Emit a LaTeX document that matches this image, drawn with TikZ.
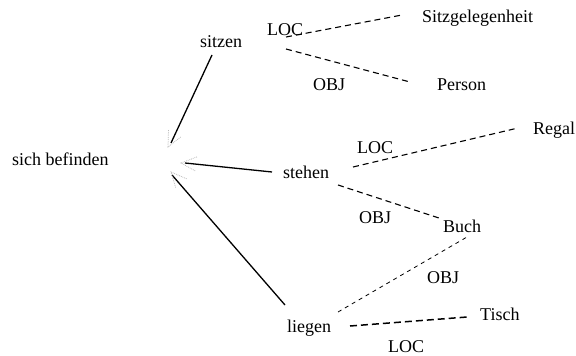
\documentclass[tikz,border=0pt]{standalone}
\usepackage{fontspec}
\setmainfont{Liberation Serif}
\usetikzlibrary{calc}
\begin{document}
\begin{tikzpicture}[x=1pt,y=-1pt,
  lbl/.style={anchor=base west,inner sep=0pt,font=\fontsize{18}{20}\selectfont},
  solidline/.style={line width=1.3pt},
  dashline/.style={line width=1.1pt,dash pattern=on 6pt off 4pt},
  fineline/.style={line width=0.8pt,dash pattern=on 4pt off 4pt},
  thickdash/.style={line width=1.5pt,dash pattern=on 7pt off 4pt},
  barb/.style={gray!55,line width=0.8pt,densely dotted}]
\useasboundingbox (0,0) rectangle (576,356);
\node[lbl] (befinden) at (12,165) {sich befinden};
\node[lbl] (sitzen) at (200,47) {sitzen};
\node[lbl] (loca) at (267,35) {LOC};
\node[lbl] (obja) at (313,90) {OBJ};
\node[lbl] (sitzg) at (422,23) {Sitzgelegenheit};
\node[lbl] (person) at (437,90) {Person};
\node[lbl] (locb) at (357,153) {LOC};
\node[lbl] (regal) at (533,134) {Regal};
\node[lbl] (stehen) at (283,178) {stehen};
\node[lbl] (objb) at (359,223) {OBJ};
\node[lbl] (buch) at (443,232) {Buch};
\node[lbl] (objc) at (427,283) {OBJ};
\node[lbl] (liegen) at (287,332) {liegen};
\node[lbl] (tisch) at (480,320) {Tisch};
\node[lbl] (locc) at (388,352) {LOC};
\coordinate (tipa) at (168,147);
\coordinate (tipb) at (181,163);
\coordinate (tipc) at (171,172);
% solid lines
\draw[solidline] ([shift={(12,8)}]sitzen.base west) -- ([shift={(3,-4)}]tipa);
\draw[solidline] ([shift={(-11,-6)}]stehen.base west) -- ([shift={(4,0)}]tipb);
\draw[solidline] ([shift={(-2,-27)}]liegen.base west) -- ([shift={(1,3)}]tipc);
% dotted arrowheads
\foreach \t/\n in {tipa/sitzen,tipb/stehen,tipc/liegen}{
  \draw[barb] ($(\t)!17pt!25:(\n.center)$) -- (\t) -- ($(\t)!17pt!-25:(\n.center)$);
}
% dashed lines
\draw[dashline] ([shift={(86,-10)}]sitzen.base west) -- ([shift={(-20,-8)}]sitzg.base west);
\draw[dashline] ([shift={(86,2)}]sitzen.base west) -- ([shift={(-27,-8)}]person.base west);
\draw[dashline] ([shift={(70,-11)}]stehen.base west) -- ([shift={(-15,-6)}]regal.base west);
\draw[dashline] ([shift={(55,7)}]stehen.base west) -- ([shift={(-1,-13)}]buch.base west);
\draw[fineline] ([shift={(51,-20)}]liegen.base west) -- ([shift={(24,5)}]buch.base west);
\draw[thickdash] ([shift={(63,-6)}]liegen.base west) -- ([shift={(-13,-3)}]tisch.base west);
\end{tikzpicture}
\end{document}
